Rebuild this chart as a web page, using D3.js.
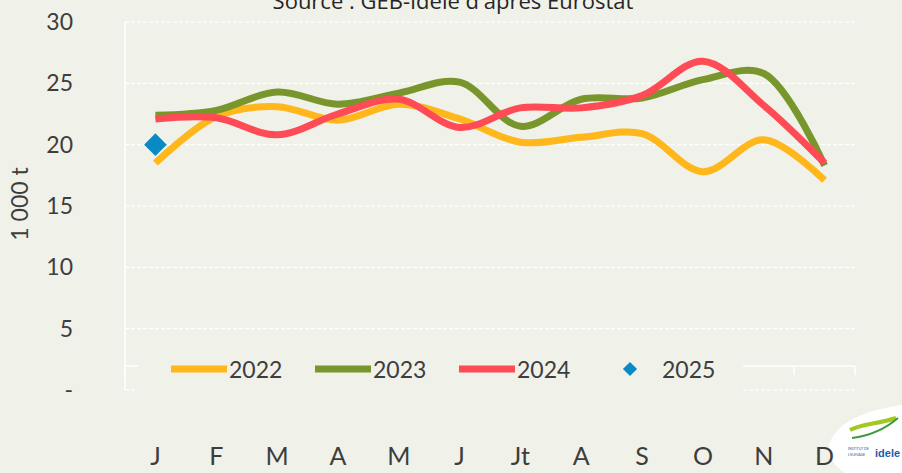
<!DOCTYPE html>
<html lang="fr">
<head>
<meta charset="utf-8">
<title>Abattages mensuels</title>
<script src="https://cdn.jsdelivr.net/npm/d3@7"></script>
<style>
  body { margin: 0; background: #f0f1e9; }
  svg { display: block; }
  text { font-family: Lato, "Noto Sans", sans-serif; fill: #3d3d3d; }
</style>
</head>
<body>
<script>
// data
var months = ["J", "F", "M", "A", "M", "J", "Jt", "A", "S", "O", "N", "D"];
var v2022 = [18.5, 22.3, 23.1, 22.0, 23.3, 22.1, 20.2, 20.6, 20.9, 17.8, 20.4, 17.1];
var v2023 = [22.4, 22.8, 24.3, 23.3, 24.2, 25.1, 21.5, 23.7, 23.8, 25.3, 25.8, 18.3];
var v2024 = [22.1, 22.2, 20.8, 22.5, 23.7, 21.4, 23.0, 23.0, 24.0, 26.8, 23.2, 18.5];
var v2025 = [20.0];
var yTicks = [0, 5, 10, 15, 20, 25, 30];

var series = [
  { name: "2022", values: v2022, color: "#ffb71b" },
  { name: "2023", values: v2023, color: "#78962b" },
  { name: "2024", values: v2024, color: "#ff4b55" }
];

var W = 902, H = 473;
var plotL = 125, plotR = 855, plotT = 22, plotB = 390;

var svg = d3.select("body").append("svg")
  .attr("width", W)
  .attr("height", H);

svg.append("rect").attr("width", W).attr("height", H).attr("fill", "#f0f1e9");

var x = d3.scaleBand().domain(d3.range(months.length)).range([plotL, plotR]);
var y = d3.scaleLinear().domain([0, 30]).range([plotB, plotT]);

// logo corner (drawn first so the labels sit on top)
var logo = svg.append("g");
logo.append("path")
  .attr("d", "M829,444 C838,420 868,410 902,405 L902,473 L845,473 C834,466 827,456 829,444 Z")
  .attr("fill", "#ffffff");
logo.append("path")
  .attr("d", "M850,430 C862,424 878,424 896,418")
  .attr("fill", "none").attr("stroke", "#a3c823").attr("stroke-width", 4);
logo.append("path")
  .attr("d", "M852,438 C868,436 884,430 898,418")
  .attr("fill", "none").attr("stroke", "#3c9a3c").attr("stroke-width", 2);
logo.append("text")
  .attr("x", 875).attr("y", 457)
  .style("font-family", "'Liberation Sans', sans-serif")
  .style("font-size", "11px").style("font-weight", "bold")
  .style("fill", "#1e5aa8")
  .text("idele");
logo.append("text")
  .attr("x", 848).attr("y", 450)
  .style("font-size", "3.5px").style("fill", "#1e5aa8")
  .text("INSTITUT DE");
logo.append("text")
  .attr("x", 848).attr("y", 456)
  .style("font-size", "3.5px").style("fill", "#1e5aa8")
  .text("L'ELEVAGE");

// title (cut at the top in the original)
svg.append("text")
  .attr("x", 453).attr("y", 9)
  .attr("text-anchor", "middle")
  .style("font-family", "'Open Sans', sans-serif")
  .style("font-size", "22px")
  .style("fill", "#262626")
  .text("Source : GEB-Idele d'après Eurostat");

// gridlines
svg.append("g").selectAll("line")
  .data(yTicks)
  .enter().append("line")
  .attr("x1", plotL).attr("x2", plotR)
  .attr("y1", function(d) { return y(d); })
  .attr("y2", function(d) { return y(d); })
  .attr("stroke", "#ffffff")
  .attr("stroke-width", 1.2)
  .attr("stroke-dasharray", "4,2");

// category axis line (crosses near 2) with ticks
var axisY = 366;
svg.append("line")
  .attr("x1", plotL).attr("x2", plotR)
  .attr("y1", axisY).attr("y2", axisY)
  .attr("stroke", "#ffffff").attr("stroke-width", 1.5);
svg.append("g").selectAll("line")
  .data(d3.range(months.length + 1))
  .enter().append("line")
  .attr("x1", function(i) { return plotL + i * x.bandwidth(); })
  .attr("x2", function(i) { return plotL + i * x.bandwidth(); })
  .attr("y1", axisY).attr("y2", axisY + 9)
  .attr("stroke", "#ffffff").attr("stroke-width", 1.5);

// value axis line
svg.append("line")
  .attr("x1", plotL).attr("x2", plotL)
  .attr("y1", plotT).attr("y2", plotB)
  .attr("stroke", "#ffffff").attr("stroke-width", 1.5);

// y labels
var yAxis = svg.append("g")
  .attr("transform", "translate(" + plotL + ",0)")
  .call(d3.axisLeft(y).tickValues(yTicks).tickSize(0).tickPadding(52)
    .tickFormat(function(d) { return d === 0 ? "-" : d; }));
yAxis.select(".domain").remove();
yAxis.selectAll("text")
  .style("font-size", "23px")
  .attr("fill", "#3d3d3d");

svg.append("text")
  .attr("transform", "translate(28,204) rotate(-90)")
  .attr("text-anchor", "middle")
  .style("font-size", "23px")
  .text("1 000 t");

// x labels
var xAxis = svg.append("g")
  .attr("transform", "translate(0,447)")
  .call(d3.axisBottom(x).tickSize(0).tickPadding(0)
    .tickFormat(function(i) { return months[i]; }));
xAxis.select(".domain").remove();
xAxis.selectAll("text")
  .style("font-size", "25px")
  .attr("fill", "#3d3d3d");

// lines
var line = d3.line()
  .x(function(d, i) { return x(i) + x.bandwidth() / 2; })
  .y(function(d) { return y(d); })
  .curve(d3.curveCatmullRom.alpha(0.5));

svg.append("g").selectAll("path")
  .data(series)
  .enter().append("path")
  .attr("d", function(s) { return line(s.values); })
  .attr("fill", "none")
  .attr("stroke", function(s) { return s.color; })
  .attr("stroke-width", 7)
  .attr("stroke-linejoin", "round");

// 2025 point
svg.append("g").selectAll("rect")
  .data(v2025)
  .enter().append("rect")
  .attr("x", -8).attr("y", -8).attr("width", 16).attr("height", 16)
  .attr("fill", "#0a8ac4")
  .attr("transform", function(d, i) {
    return "translate(" + (x(i) + x.bandwidth() / 2) + "," + y(d) + ") rotate(45)";
  });

// legend (covers the axis area)
svg.append("rect")
  .attr("x", 138).attr("y", 344).attr("width", 605).attr("height", 52)
  .attr("fill", "#f0f1e9");

var legendItems = [
  { name: "2022", color: "#ffb71b", x: 171 },
  { name: "2023", color: "#78962b", x: 315 },
  { name: "2024", color: "#ff4b55", x: 459 }
];
var lg = svg.append("g").selectAll("g")
  .data(legendItems)
  .enter().append("g")
  .attr("transform", function(d) { return "translate(" + d.x + ",369)"; });
lg.append("rect")
  .attr("x", 0).attr("y", -3.5).attr("width", 56).attr("height", 7)
  .attr("fill", function(d) { return d.color; });
lg.append("text")
  .attr("x", 58).attr("y", 9)
  .style("font-size", "23px")
  .text(function(d) { return d.name; });

svg.append("rect")
  .attr("x", -5).attr("y", -5).attr("width", 10).attr("height", 10)
  .attr("fill", "#0a8ac4")
  .attr("transform", "translate(630,369) rotate(45)");
svg.append("text")
  .attr("x", 662).attr("y", 378)
  .style("font-size", "23px")
  .text("2025");
</script>
</body>
</html>
